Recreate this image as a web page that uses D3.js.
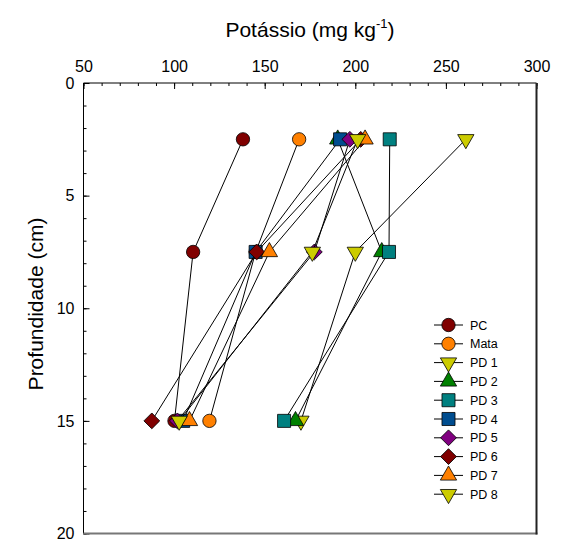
<!DOCTYPE html>
<html>
<head>
<meta charset="utf-8">
<script src="https://cdn.jsdelivr.net/npm/d3@7"></script>
<style>
body { margin: 0; background: #fff; }
text { font-family: "Liberation Sans", Arial, sans-serif; fill: #000; }
</style>
</head>
<body>
<div id="chart"></div>
<script>
const w = 561, h = 540

// data: depth (cm) and potassium (mg/kg) per treatment
const depths = [2.5, 7.5, 15]
const names = ["PC", "Mata", "PD 1", "PD 2", "PD 3", "PD 4", "PD 5", "PD 6", "PD 7", "PD 8"]
const pc = [138, 110.5, 100.2]
const mata = [169, 145, 119.5]
const pd1 = [261, 200, 170]
const pd2 = [190.3, 214.6, 167]
const pd3 = [219, 218.6, 160.7]
const pd4 = [191.6, 145, 105]
const pd5 = [197, 177.4, 101.8]
const pd6 = [203, 145.6, 87.7]
const pd7 = [205.4, 152.6, 108.5]
const pd8 = [201.3, 176.3, 102.8]
const xTicks = [50, 100, 150, 200, 250, 300]
const yTicks = [0, 5, 10, 15, 20]

const colors = ["#800000", "#ff8000", "#cccc00", "#008000", "#008080", "#004d8f", "#800080", "#800000", "#ff8000", "#cccc00"]
const shapes = ["circle", "circle", "tridown", "triup", "square", "square", "diamond", "diamond", "triup", "tridown"]

const table = [pc, mata, pd1, pd2, pd3, pd4, pd5, pd6, pd7, pd8].map((vals, i) => ({
    name: names[i], color: colors[i], shape: shapes[i],
    points: vals.map((v, j) => ({ k: v, d: depths[j] }))
}))

//scales
const x = d3.scaleLinear().domain([50, 300]).range([83.5, 536.5])
const y = d3.scaleLinear().domain([0, 20]).range([83, 533.5])

const svg = d3.select("#chart").append("svg")
    .attr("width", w)
    .attr("height", h)

function symbolPath(shape) {
    if (shape == "circle") return d3.symbol(d3.symbolCircle, 140)()
    if (shape == "square") return d3.symbol(d3.symbolSquare, 170)()
    if (shape == "diamond") return d3.symbol(d3.symbolSquare, 125)()
    return d3.symbol(d3.symbolTriangle, 115)()
}
function symbolRotate(shape) {
    if (shape == "diamond") return 45
    if (shape == "tridown") return 180
    return 0
}

// ticks (inside)
const xAxis = d3.axisTop(x).tickValues(d3.range(50, 301, 10)).tickSize(-3).tickFormat("")
svg.append("g").attr("transform", "translate(0," + y(0) + ")").call(xAxis)
const xMajor = d3.axisTop(x).tickValues(xTicks).tickSize(-6).tickPadding(11)
svg.append("g").attr("class", "xmaj").attr("transform", "translate(0," + y(0) + ")").call(xMajor)

const yAxis = d3.axisLeft(y).tickValues(d3.range(0, 21, 1)).tickSize(-3).tickFormat("")
svg.append("g").attr("transform", "translate(" + x(50) + ",0)").call(yAxis)
const yMajor = d3.axisLeft(y).tickValues(yTicks).tickSize(-6).tickPadding(9)
svg.append("g").attr("class", "ymaj").attr("transform", "translate(" + x(50) + ",0)").call(yMajor)

svg.selectAll(".domain").remove()
svg.selectAll(".tick line").attr("stroke", "#000")
svg.selectAll(".xmaj text, .ymaj text").attr("font-size", 16).attr("font-family", "'Liberation Sans', Arial, sans-serif")

// frame
svg.append("line").attr("x1", x(50)).attr("x2", x(300)).attr("y1", y(0)).attr("y2", y(0)).attr("stroke", "#000")
svg.append("line").attr("x1", x(50)).attr("x2", x(50)).attr("y1", y(0)).attr("y2", y(20)).attr("stroke", "#000")
svg.append("line").attr("x1", x(50)).attr("x2", x(300) + 1).attr("y1", y(20)).attr("y2", y(20)).attr("stroke", "#777").attr("stroke-width", 2)
svg.append("line").attr("x1", x(300)).attr("x2", x(300)).attr("y1", y(0)).attr("y2", y(20) + 1).attr("stroke", "#222").attr("stroke-width", 2)

// series
const line = d3.line().x(d => x(d.k)).y(d => y(d.d))
table.forEach(s => {
    const g = svg.append("g")
    g.append("path").attr("d", line(s.points)).attr("fill", "none").attr("stroke", "#000").attr("stroke-width", 1)
    g.selectAll("path.sym").data(s.points).enter().append("path")
        .attr("class", "sym")
        .attr("d", symbolPath(s.shape))
        .attr("transform", d => "translate(" + x(d.k) + "," + y(d.d) + ") rotate(" + symbolRotate(s.shape) + ")")
        .attr("fill", s.color)
        .attr("stroke", "#000")
        .attr("stroke-width", 0.8)
})

// legend
const leg = svg.append("g").attr("transform", "translate(434,325)")
table.forEach((s, i) => {
    const gy = i * 18.8
    leg.append("line").attr("x1", 0).attr("x2", 29).attr("y1", gy).attr("y2", gy).attr("stroke", "#000")
    leg.append("path")
        .attr("d", symbolPath(s.shape))
        .attr("transform", "translate(14.5," + gy + ") rotate(" + symbolRotate(s.shape) + ")")
        .attr("fill", s.color).attr("stroke", "#000").attr("stroke-width", 0.8)
    leg.append("text").attr("x", 36).attr("y", gy + 4.5).attr("font-size", 12.5).text(s.name)
})

// titles
const title = svg.append("text").attr("x", 310).attr("y", 37).attr("text-anchor", "middle").attr("font-size", 21)
title.append("tspan").text("Potássio (mg kg")
title.append("tspan").attr("font-size", 13).attr("dy", -9).text("-1")
title.append("tspan").attr("dy", 9).text(")")

svg.append("text").attr("transform", "translate(43,304) rotate(-90)")
    .attr("text-anchor", "middle").attr("font-size", 21)
    .text("Profundidade (cm)")
</script>
</body>
</html>
